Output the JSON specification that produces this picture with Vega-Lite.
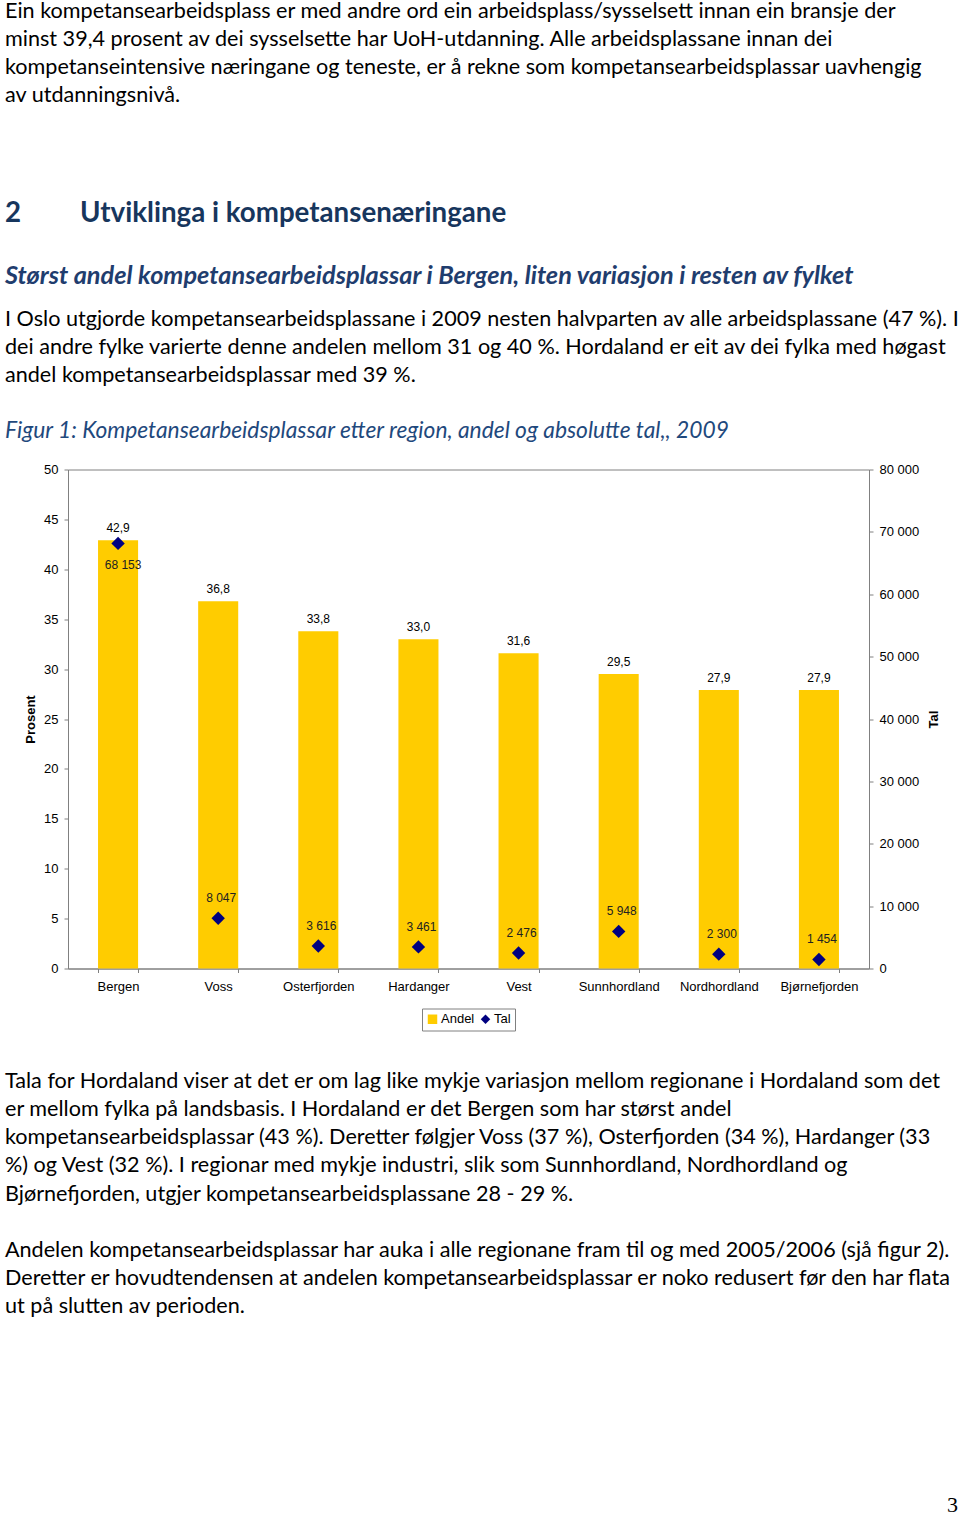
{
  "$schema": "https://vega.github.io/schema/vega-lite/v6.json",
  "background": "white",
  "padding": {"left": 5, "top": 1, "right": 0, "bottom": 0},
  "bounds": "flush",
  "spacing": 37.5,
  "resolve": {"scale": {"color": "independent"}, "legend": {"color": "independent"}},
  "config": {
    "font": "Liberation Sans",
    "locale": {"number": {"decimal": ",", "thousands": " ", "grouping": [3], "currency": ["", ""]}},
    "legend": {"layout": {"bottom": {"anchor": "middle"}}}
  },
  "datasets": {
    "header": [
      {"line": 0, "kind": "body", "text": "Ein kompetansearbeidsplass  er med andre ord ein arbeidsplass/sysselsett innan ein bransje der"},
      {"line": 1, "kind": "body", "text": "minst 39,4 prosent av dei sysselsette har UoH-utdanning. Alle arbeidsplassane innan dei"},
      {"line": 2, "kind": "body", "text": "kompetanseintensive næringane og teneste, er  å rekne som kompetansearbeidsplassar uavhengig"},
      {"line": 3, "kind": "body", "text": "av utdanningsnivå."},
      {"line": 7, "kind": "headnum", "text": "2"},
      {"line": 7, "kind": "heading", "text": "Utviklinga i kompetansenæringane"},
      {"line": 9, "kind": "subheading", "text": "Størst andel kompetansearbeidsplassar i Bergen, liten variasjon i resten av fylket"},
      {"line": 11, "kind": "body", "text": "I Oslo utgjorde kompetansearbeidsplassane i 2009 nesten halvparten av alle arbeidsplassane (47 %). I"},
      {"line": 12, "kind": "body", "text": "dei andre fylke varierte denne andelen mellom 31 og 40 %.  Hordaland er eit av dei fylka med høgast"},
      {"line": 13, "kind": "body", "text": "andel kompetansearbeidsplassar med 39 %."},
      {"line": 15, "kind": "caption", "text": "Figur 1: Kompetansearbeidsplassar etter region, andel og absolutte tal,, 2009"}
    ],
    "regions": [
      {"region": "Bergen", "andel": 42.9, "tal": 68153},
      {"region": "Voss", "andel": 36.8, "tal": 8047},
      {"region": "Osterfjorden", "andel": 33.8, "tal": 3616},
      {"region": "Hardanger", "andel": 33.0, "tal": 3461},
      {"region": "Vest", "andel": 31.6, "tal": 2476},
      {"region": "Sunnhordland", "andel": 29.5, "tal": 5948},
      {"region": "Nordhordland", "andel": 27.9, "tal": 2300},
      {"region": "Bjørnefjorden", "andel": 27.9, "tal": 1454}
    ],
    "footer": [
      {"line": 0, "kind": "body", "text": "Tala for Hordaland viser at det er om lag like mykje variasjon mellom regionane i Hordaland som det"},
      {"line": 1, "kind": "body", "text": "er mellom fylka på landsbasis. I Hordaland er det Bergen som har størst andel"},
      {"line": 2, "kind": "body", "text": "kompetansearbeidsplassar (43 %). Deretter følgjer Voss (37 %), Osterfjorden (34 %), Hardanger (33"},
      {"line": 3, "kind": "body", "text": "%) og Vest (32 %). I regionar med mykje industri, slik som Sunnhordland, Nordhordland og"},
      {"line": 4, "kind": "body", "text": "Bjørnefjorden, utgjer kompetansearbeidsplassane 28 - 29 %."},
      {"line": 6, "kind": "body", "text": "Andelen kompetansearbeidsplassar har auka i alle regionane fram til og med 2005/2006 (sjå figur 2)."},
      {"line": 7, "kind": "body", "text": "Deretter er hovudtendensen at andelen kompetansearbeidsplassar er noko redusert før den har flata"},
      {"line": 8, "kind": "body", "text": "ut på slutten av perioden."},
      {"line": 15, "kind": "pagenum", "text": "3"}
    ]
  },
  "vconcat": [
    {
      "width": 890,
      "height": 420,
      "view": {"stroke": null},
      "data": {"name": "header"},
      "encoding": {
        "x": {"datum": 0, "type": "quantitative", "scale": {"domain": [0, 1], "nice": false}, "axis": null},
        "y": {"field": "line", "type": "quantitative", "scale": {"domain": [0, 15], "reverse": true, "nice": false}, "axis": null},
        "text": {"field": "text"}
      },
      "layer": [
        {"transform": [{"filter": "datum.kind === 'body'"}],
         "mark": {"type": "text", "align": "left", "baseline": "middle", "dx": -63, "font": "Lato", "fontSize": 21.6, "color": "#000000"}},
        {"transform": [{"filter": "datum.kind === 'headnum'"}],
         "mark": {"type": "text", "align": "left", "baseline": "middle", "dx": -63, "dy": 6, "font": "Lato", "fontWeight": "bold", "fontSize": 27.7, "color": "#17365D"}},
        {"transform": [{"filter": "datum.kind === 'heading'"}],
         "mark": {"type": "text", "align": "left", "baseline": "middle", "dx": 12, "dy": 6, "font": "Lato", "fontWeight": "bold", "fontSize": 27.7, "color": "#17365D"}},
        {"transform": [{"filter": "datum.kind === 'subheading'"}],
         "mark": {"type": "text", "align": "left", "baseline": "middle", "dx": -63, "dy": 11.5, "font": "Lato", "fontWeight": "bold", "fontStyle": "italic", "fontSize": 25.3, "color": "#1F3D6E"}},
        {"transform": [{"filter": "datum.kind === 'caption'"}],
         "mark": {"type": "text", "align": "left", "baseline": "middle", "dx": -63, "dy": -1.5, "font": "Lato", "fontStyle": "italic", "fontSize": 22.8, "color": "#1F497D"}}
      ]
    },
    {
      "width": 801,
      "height": 499,
      "view": {"stroke": "#808080", "strokeWidth": 1},
      "data": {"name": "regions"},
      "encoding": {
        "x": {
          "field": "region", "type": "nominal", "sort": null,
          "scale": {"paddingInner": 0.6, "paddingOuter": 0.3},
          "axis": {"title": null, "labelAngle": 0, "tickBand": "extent", "grid": false,
                   "domainColor": "#808080", "tickColor": "#808080", "tickSize": 4,
                   "labelPadding": 8, "labelFontSize": 13, "labelColor": "#000000"}
        }
      },
      "layer": [
        {
          "encoding": {
            "y": {"field": "andel", "type": "quantitative",
                  "scale": {"domain": [0, 50], "nice": false},
                  "axis": {"title": "Prosent", "orient": "left", "values": [0, 5, 10, 15, 20, 25, 30, 35, 40, 45, 50],
                           "grid": false, "domainColor": "#808080", "tickColor": "#808080", "tickSize": 4,
                           "labelPadding": 6, "labelFontSize": 13, "labelColor": "#000000",
                           "titleFontSize": 13, "titleFontWeight": "bold", "titleColor": "#000000", "titlePadding": 6}}
          },
          "layer": [
            {"mark": {"type": "bar"},
             "encoding": {
               "color": {"datum": "Andel",
                         "scale": {"domain": ["Andel", "Tal"], "range": ["#FFCC00", "#000080"]},
                         "legend": {"title": null, "orient": "bottom", "direction": "horizontal",
                                    "strokeColor": "#808080", "padding": 4, "offset": 15,
                                    "labelFontSize": 13, "labelColor": "#000000", "symbolSize": 90,
                                    "columnPadding": 4, "labelOffset": 2, "symbolOpacity": 1,
                                    "encode": {"symbols": {"update": {"shape": {"signal": "datum.value === 'Tal' ? 'diamond' : 'square'"}, "strokeWidth": {"value": 0}}}}}}
             }},
            {"mark": {"type": "text", "baseline": "middle", "dy": -12.5, "fontSize": 12, "color": "#000000"},
             "encoding": {"text": {"field": "andel", "type": "quantitative", "format": ".1f"}}}
          ]
        },
        {
          "encoding": {
            "y": {"field": "tal", "type": "quantitative",
                  "scale": {"domain": [0, 80000], "nice": false},
                  "axis": {"title": "Tal", "orient": "right", "values": [0, 10000, 20000, 30000, 40000, 50000, 60000, 70000, 80000],
                           "format": ",d", "grid": false, "domainColor": "#808080", "tickColor": "#808080", "tickSize": 4,
                           "labelPadding": 6, "labelFontSize": 13, "labelColor": "#000000",
                           "titleFontSize": 13, "titleFontWeight": "bold", "titleColor": "#000000", "titlePadding": 22, "titleAngle": 270}}
          },
          "layer": [
            {"mark": {"type": "point", "shape": "diamond", "filled": true, "size": 180, "opacity": 1},
             "encoding": {"color": {"datum": "Tal"}}},
            {"transform": [{"filter": "datum.region !== 'Bergen'"}],
             "mark": {"type": "text", "baseline": "middle", "dy": -20, "dx": 3, "fontSize": 12, "color": "#222222"},
             "encoding": {"text": {"field": "tal", "type": "quantitative", "format": ",d"}}},
            {"transform": [{"filter": "datum.region === 'Bergen'"}],
             "mark": {"type": "text", "baseline": "middle", "dy": 22, "dx": 5, "fontSize": 12, "color": "#222222"},
             "encoding": {"text": {"field": "tal", "type": "quantitative", "format": ",d"}}}
          ]
        }
      ],
      "resolve": {"scale": {"y": "independent"}}
    },
    {
      "width": 890,
      "height": 499,
      "view": {"stroke": null},
      "data": {"name": "footer"},
      "encoding": {
        "y": {"field": "line", "type": "quantitative", "scale": {"domain": [-2.68, 15], "reverse": true, "nice": false, "zero": false}, "axis": null},
        "text": {"field": "text"}
      },
      "layer": [
        {"transform": [{"filter": "datum.kind === 'body'"}],
         "encoding": {"x": {"datum": 0, "type": "quantitative", "scale": {"domain": [0, 1], "nice": false}, "axis": null}},
         "mark": {"type": "text", "align": "left", "baseline": "middle", "dx": -63, "font": "Lato", "fontSize": 21.6, "color": "#000000"}},
        {"transform": [{"filter": "datum.kind === 'pagenum'"}],
         "encoding": {"x": {"datum": 1, "type": "quantitative", "scale": {"domain": [0, 1], "nice": false}, "axis": null}},
         "mark": {"type": "text", "align": "right", "baseline": "middle", "font": "Liberation Serif", "fontSize": 22, "color": "#000000"}}
      ]
    }
  ]
}
